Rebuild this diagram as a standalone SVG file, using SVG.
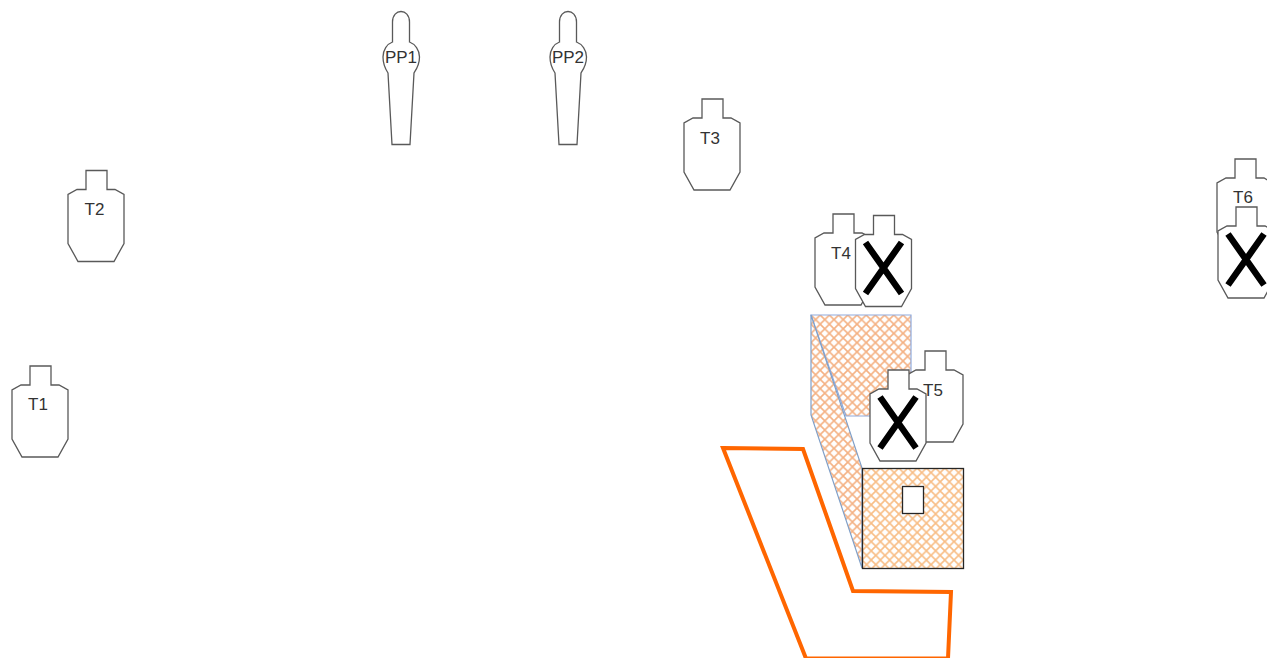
<svg xmlns="http://www.w3.org/2000/svg" width="1267" height="658" viewBox="0 0 1267 658">
<style>
.t{fill:#fff;stroke:#595959;stroke-width:1.3;stroke-linejoin:miter}
.x{fill:none;stroke:#000;stroke-width:6.5}
.l{font-family:"Liberation Sans",Arial,sans-serif;font-size:17px;fill:#333;text-anchor:middle}
</style>
<defs>
<path id="sil" d="M18 0H39V19H47L56 24V73L46 91H10L0 73V24L9 19H18Z"/>
<path id="pp" d="M392.500 42V22C392.500 8 409.500 8 409.500 22V42C415 44 419.500 50 419.500 57C419.500 65 416 70 414 73L410 144.500H392L388 73C386 70 383 65 383 57C383 50 387 44 392.500 42Z"/>
<path id="cross" d="M10 27L46 78M46 27L10 78"/>
<pattern id="h1" width="9.200" height="9.200" patternUnits="userSpaceOnUse" patternTransform="translate(811 315)">
<rect width="9.200" height="9.200" fill="#fff"/><path d="M-1 -1L10.200 10.200M-1 10.200L10.200 -1" stroke="#f4b183" stroke-width="1.600"/>
</pattern>
<pattern id="h2" width="9.200" height="9.200" patternUnits="userSpaceOnUse" patternTransform="translate(862 468)">
<rect width="9.200" height="9.200" fill="#fff"/><path d="M-1 -1L10.200 10.200M-1 10.200L10.200 -1" stroke="#f8bd85" stroke-width="1.600"/>
</pattern>
</defs>
<g id="connectors"></g>
<g id="wall-upper"><path d="M811 315H911V416H846Z" fill="url(#h1)" stroke="#8faadc" stroke-width="1.200"/></g>
<g id="wall-lower"><path d="M811 315V415L862 568V468Z" fill="url(#h1)" stroke="#7f9fc8" stroke-width="1.200"/></g>
<g id="box"><rect x="862.500" y="468.500" width="101" height="100" fill="url(#h2)" stroke="#262626" stroke-width="1.300"/>
<rect x="902.500" y="486.500" width="21" height="27" fill="#fff" stroke="#262626" stroke-width="1.300"/></g>
<g id="fault-line"><path d="M723 448L803 449L853 591L951 592L948 658.500H806Z" fill="none" stroke="#ff6600" stroke-width="4"/></g>
<g id="PP1"><use href="#pp" class="t"/><text class="l" x="401" y="63">PP1</text></g>
<g id="PP2"><use href="#pp" class="t" x="167"/><text class="l" x="568" y="63">PP2</text></g>
<g id="T1"><use href="#sil" class="t" x="12" y="366"/><text class="l" x="38" y="410">T1</text></g>
<g id="T2"><use href="#sil" class="t" x="68" y="170.500"/><text class="l" x="94.500" y="215">T2</text></g>
<g id="T3"><use href="#sil" class="t" x="684" y="99"/><text class="l" x="710" y="144">T3</text></g>
<g id="T4"><use href="#sil" class="t" x="815" y="214"/><text class="l" x="841" y="259">T4</text></g>
<g id="T4-X"><use href="#sil" class="t" x="855.500" y="215.500"/><use href="#cross" class="x" x="855.500" y="215.500"/></g>
<g id="T5"><use href="#sil" class="t" x="907" y="351"/><text class="l" x="933" y="396">T5</text></g>
<g id="T5-X"><use href="#sil" class="t" x="870" y="370"/><use href="#cross" class="x" x="870" y="370"/></g>
<g id="T6"><use href="#sil" class="t" x="1217" y="159"/><text class="l" x="1243" y="203">T6</text></g>
<g id="T6-X"><use href="#sil" class="t" x="1218" y="207"/><use href="#cross" class="x" x="1218" y="207"/></g>
</svg>
